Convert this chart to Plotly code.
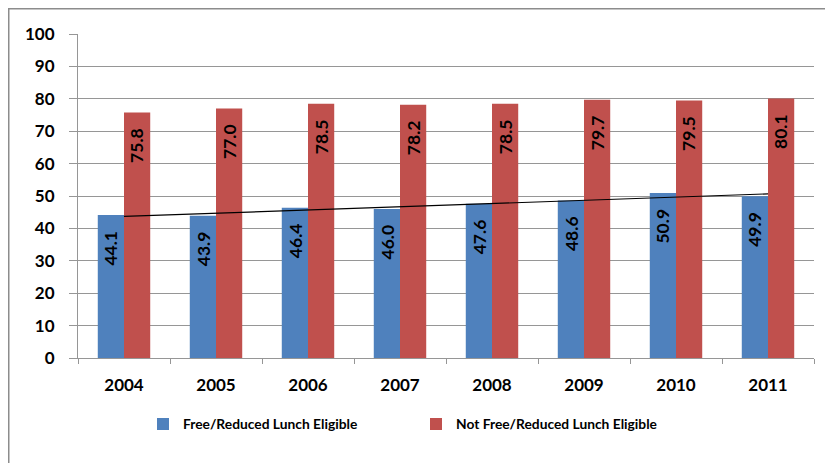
import numpy as np
import plotly.graph_objects as go

years = ["2004", "2005", "2006", "2007", "2008", "2009", "2010", "2011"]
free_reduced = [44.1, 43.9, 46.4, 46.0, 47.6, 48.6, 50.9, 49.9]
not_free_reduced = [75.8, 77.0, 78.5, 78.2, 78.5, 79.7, 79.5, 80.1]
y_ticks = [0, 10, 20, 30, 40, 50, 60, 70, 80, 90, 100]

BLUE = "#4F81BD"
RED = "#C0504D"
GRID = "#969696"
FONT = "Lato"

W, H = 825, 455
L, R, T, B = 70, 19, 26, 105
PW, PH = W - L - R, H - T - B

fig = go.Figure()
fig.add_trace(go.Bar(x=years, y=free_reduced, name="Free/Reduced Lunch Eligible",
                     marker=dict(color=BLUE, line=dict(width=0))))
fig.add_trace(go.Bar(x=years, y=not_free_reduced, name="Not Free/Reduced Lunch Eligible",
                     marker=dict(color=RED, line=dict(width=0))))

# linear trendline for the free/reduced series
idx = np.arange(len(years))
slope, intercept = np.polyfit(idx, free_reduced, 1)
trend = slope * idx + intercept
fig.add_trace(go.Scatter(x=years, y=trend, mode="lines", showlegend=False,
                         line=dict(color="black", width=1.2), hoverinfo="skip"))

label_font = dict(family=FONT, size=17.5, color="black", weight="bold")
annotations = []
for i, v in enumerate(free_reduced):
    annotations.append(dict(x=i, y=v, xref="x", yref="y", text=f"{v:.1f}",
                            showarrow=False, textangle=-90, xanchor="center",
                            yanchor="top", xshift=-13, yshift=-14, font=label_font))
for i, v in enumerate(not_free_reduced):
    annotations.append(dict(x=i, y=v, xref="x", yref="y", text=f"{v:.1f}",
                            showarrow=False, textangle=-90, xanchor="center",
                            yanchor="top", xshift=13, yshift=-14, font=label_font))

fig.update_layout(
    width=W, height=H,
    margin=dict(l=L, r=R, t=T, b=B),
    paper_bgcolor="white", plot_bgcolor="white",
    barmode="group", bargap=0.43, bargroupgap=0,
    font=dict(family=FONT, color="black"),
    showlegend=True,
    legend=dict(orientation="h", x=(135 - L) / PW, xanchor="left",
                y=-(416 - (T + PH)) / PH, yanchor="middle",
                font=dict(family=FONT, size=13.8, color="black", weight="bold"),
                entrywidth=228, entrywidthmode="pixels", itemwidth=30,
                bgcolor="rgba(0,0,0,0)"),
    annotations=annotations,
    shapes=[dict(type="rect", xref="paper", yref="paper",
                 x0=(0.75 - L) / PW, x1=(W + 20 - L) / PW,
                 y0=-(H + 20 - (T + PH)) / PH, y1=1 + (T - 0.75) / PH,
                 line=dict(color="#8C8C8C", width=1.5), fillcolor="rgba(0,0,0,0)",
                 layer="below")],
)
fig.update_xaxes(type="category", range=[-0.5, len(years) - 0.5], autorange=False,
                 showgrid=False, showline=True, linecolor=GRID, linewidth=1,
                 ticks="outside", ticklen=5, tickcolor=GRID, tickson="boundaries",
                 tickangle=0,
                 tickfont=dict(family=FONT, size=17, color="black", weight="bold"),
                 ticklabelstandoff=12)
fig.update_yaxes(range=[0, 100], tickvals=y_ticks, showgrid=True, gridcolor=GRID, gridwidth=1,
                 showline=True, linecolor=GRID, linewidth=1, zeroline=False,
                 ticks="outside", ticklen=8, tickcolor=GRID,
                 tickfont=dict(family=FONT, size=17, color="black", weight="bold"),
                 ticklabelstandoff=11)

fig.write_html("out.html")
